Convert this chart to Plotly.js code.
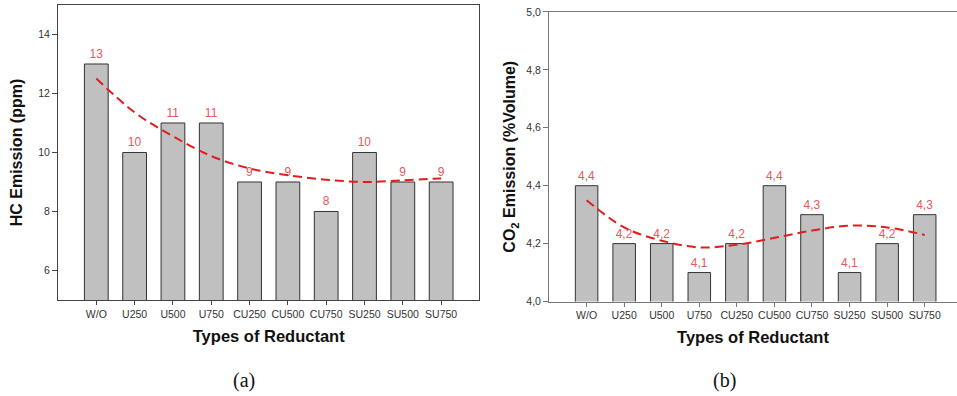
<!DOCTYPE html>
<html><head><meta charset="utf-8">
<script src="https://cdn.plot.ly/plotly-3.0.1.min.js"></script>
<style>html,body{margin:0;padding:0;background:#fff}#chart{width:957px;height:396px}</style>
</head><body><div id="chart"></div>
<script>
const categories = ['W/O','U250','U500','U750','CU250','CU500','CU750','SU250','SU500','SU750'];
const hcValues = [13,10,11,11,9,9,8,10,9,9];
const hcTrend = [12.51,11.36,10.55,9.88,9.46,9.23,9.08,9.0,9.06,9.12];
const co2Values = [4.4,4.2,4.2,4.1,4.2,4.4,4.3,4.1,4.2,4.3];
const co2Trend = [4.35,4.256,4.21,4.187,4.196,4.22,4.245,4.262,4.256,4.23];
const hcTicks = [6,8,10,12,14];
const co2Ticks = [4.0,4.2,4.4,4.6,4.8,5.0];
const co2TickText = co2Ticks.map(v => v.toFixed(1).replace('.', ','));

const SANS = '"Liberation Sans", Arial, sans-serif';
const SERIF = '"Liberation Serif", "Times New Roman", serif';
const barStyle = {color:'#c0c0c0', line:{color:'#333333', width:1}};
const labelFont = {family:SANS, size:12, color:'#e8585c'};
const trendLine = {color:'#e01e1e', width:2, dash:'9px,5px', shape:'spline'};

const traces = [
  {type:'bar', x:categories, y:hcValues, width:0.62, marker:barStyle,
   text:hcValues.map(String), textposition:'outside', outsidetextfont:labelFont,
   cliponaxis:false, xaxis:'x', yaxis:'y', hoverinfo:'x+y'},
  {type:'scatter', mode:'lines', x:categories, y:hcTrend, line:trendLine, xaxis:'x', yaxis:'y'},
  {type:'bar', x:categories, y:co2Values, width:0.60, marker:barStyle,
   text:co2Values.map(v => v.toFixed(1).replace('.', ',')), textposition:'outside', outsidetextfont:labelFont,
   cliponaxis:false, xaxis:'x2', yaxis:'y2', hoverinfo:'x+y'},
  {type:'scatter', mode:'lines', x:categories, y:co2Trend, line:trendLine, xaxis:'x2', yaxis:'y2'}
];

const tickFont = {family:SANS, size:10.5, color:'#333'};
const xTitleFont = {family:SANS, size:16.5, color:'#111', weight:'bold'};
const yTitleFont = {family:SANS, size:16, color:'#111', weight:'bold'};

const layout = {
  width:957, height:396, margin:{l:0,r:0,t:0,b:0},
  paper_bgcolor:'#fff', plot_bgcolor:'#fff', showlegend:false,
  font:{family:SANS},
  xaxis:{domain:[0.0606,0.501], type:'category', range:[-1,10], showgrid:false, zeroline:false,
    showline:true, linecolor:'#444', linewidth:1, mirror:true, ticks:'outside', ticklen:4, tickcolor:'#444',
    tickfont:tickFont, automargin:false, fixedrange:true,
    title:{text:'<b>Types of Reductant</b>', font:xTitleFont, standoff:11}},
  yaxis:{domain:[0.2424,0.9874], range:[5,15], tickvals:hcTicks, showgrid:false, zeroline:false,
    showline:true, linecolor:'#444', linewidth:1, mirror:true, ticks:'outside', ticklen:5, tickcolor:'#444',
    tickfont:tickFont, automargin:false, fixedrange:true,
    title:{text:'<b>HC Emission (ppm)</b>', font:yTitleFont, standoff:11}},
  xaxis2:{domain:[0.5737,1], anchor:'y2', type:'category', range:[-1,9.86], showgrid:false, zeroline:false,
    showline:true, linecolor:'#777', linewidth:1, mirror:true, ticks:'outside', ticklen:4, tickcolor:'#777',
    tickfont:tickFont, automargin:false, fixedrange:true,
    title:{text:'<b>Types of Reductant</b>', font:xTitleFont, standoff:11}},
  yaxis2:{domain:[0.2386,0.9697], anchor:'x2', range:[4.0,5.0], tickvals:co2Ticks, ticktext:co2TickText,
    showgrid:false, zeroline:false, showline:true, linecolor:'#777', linewidth:1, mirror:false,
    ticks:'outside', ticklen:5, tickcolor:'#777', tickfont:tickFont, automargin:false, fixedrange:true,
    title:{text:'<b>CO<sub>2</sub> Emission (%Volume)</b>', font:yTitleFont, standoff:6}},
  annotations:[
    {text:'(a)', xref:'paper', yref:'paper', x:244/957, y:(396-380)/396, xanchor:'center', yanchor:'middle',
     showarrow:false, font:{family:SERIF, size:20, color:'#111'}},
    {text:'(b)', xref:'paper', yref:'paper', x:724/957, y:(396-380)/396, xanchor:'center', yanchor:'middle',
     showarrow:false, font:{family:SERIF, size:20, color:'#111'}}
  ]
};
Plotly.newPlot('chart', traces, layout, {displayModeBar:false, staticPlot:true});
</script>
</body></html>
